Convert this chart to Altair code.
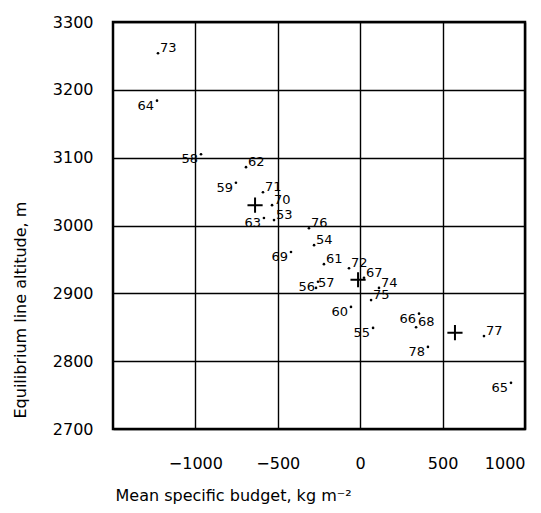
import altair as alt
import pandas as pd

# Year labels (19xx), mean specific budget (kg m-2), ELA (m), label side
years = ["73", "64", "58", "62", "59", "71", "70", "53", "63", "76", "54", "69", "61",
         "72", "57", "56", "67", "74", "75", "60", "55", "66", "68", "78", "77", "65"]
budget = [-1227, -1233, -966, -693, -754, -590, -535, -523, -584, -311, -280, -420, -220,
          -68, -268, -256, 23, 114, 66, -56, 78, 357, 339, 411, 751, 915]
ela = [3254, 3184, 3105, 3086, 3063, 3049, 3030, 3008, 3011, 2996, 2971, 2961, 2943,
       2937, 2908, 2917, 2923, 2908, 2890, 2880, 2849, 2870, 2850, 2821, 2837, 2768]
side = ["L", "R", "R", "L", "R", "L", "L", "L", "R", "L", "L", "R", "L",
        "L", "L", "R", "L", "L", "L", "R", "R", "R", "L", "R", "L", "R"]

# Group means (crosses)
mean_budget = [-638, -13, 575]
mean_ela = [3030, 2920, 2842]

x_ticks = [-1000, -500, 0, 500, 1000]
y_ticks = [2700, 2800, 2900, 3000, 3100, 3200, 3300]

df = pd.DataFrame({"year": years, "budget": budget, "ela": ela, "side": side})
means = pd.DataFrame({"budget": mean_budget, "ela": mean_ela})

FONT = "DejaVu Sans"

xscale = alt.Scale(domain=[-1500, 1000], nice=False, zero=False)
yscale = alt.Scale(domain=[2700, 3300], nice=False, zero=False)

xenc = alt.X("budget:Q", scale=xscale, axis=alt.Axis(
    values=x_ticks, format="d", title="Mean specific budget, kg m⁻²", grid=True,
    gridColor="black", gridWidth=1.4, gridOpacity=1, tickSize=0, domain=False,
    labelFontSize=16, labelPadding=26, labelFont=FONT, labelColor="black",
    titleFont=FONT, titleFontSize=16, titleFontWeight="normal", titleColor="black",
    titleX=2, titleY=66, titleAlign="left", titleBaseline="middle", titleAnchor="start"))
yenc = alt.Y("ela:Q", scale=yscale, axis=alt.Axis(
    values=y_ticks, format="d", title="Equilibrium line altitude, m", grid=True,
    gridColor="black", gridWidth=1.4, gridOpacity=1, tickSize=0, domain=False,
    labelFontSize=16, labelPadding=20, labelFont=FONT, labelColor="black",
    titleFont=FONT, titleFontSize=16, titleFontWeight="normal", titleColor="black",
    titleAngle=-90, titleX=-93, titleY=396, titleAlign="left", titleBaseline="middle"))

dots = alt.Chart(df).mark_circle(size=7, color="black", opacity=1).encode(x=xenc, y=yenc)

lab_left = alt.Chart(df).transform_filter(alt.datum.side == "L").mark_text(
    align="left", baseline="middle", dx=2, dy=-5, fontSize=13, font=FONT, color="black"
).encode(x="budget:Q", y="ela:Q", text="year:N")

lab_right = alt.Chart(df).transform_filter(alt.datum.side == "R").mark_text(
    align="right", baseline="middle", dx=-3, dy=5, fontSize=13, font=FONT, color="black"
).encode(x="budget:Q", y="ela:Q", text="year:N")

crosses = alt.Chart(means).mark_point(
    shape="M -1 0 L 1 0 M 0 -1 L 0 1", size=230, strokeWidth=2, color="black",
    filled=False, opacity=1
).encode(x="budget:Q", y="ela:Q")

chart = alt.layer(dots, lab_left, lab_right, crosses).properties(
    width=412, height=407,
    autosize=alt.AutoSizeParams(type="none"),
    padding={"left": 105, "top": 14, "right": 8, "bottom": 82},
    background="white",
).configure_view(stroke="black", strokeWidth=2.5)

chart.save("out.html", embed_options={"renderer": "svg", "actions": False})
